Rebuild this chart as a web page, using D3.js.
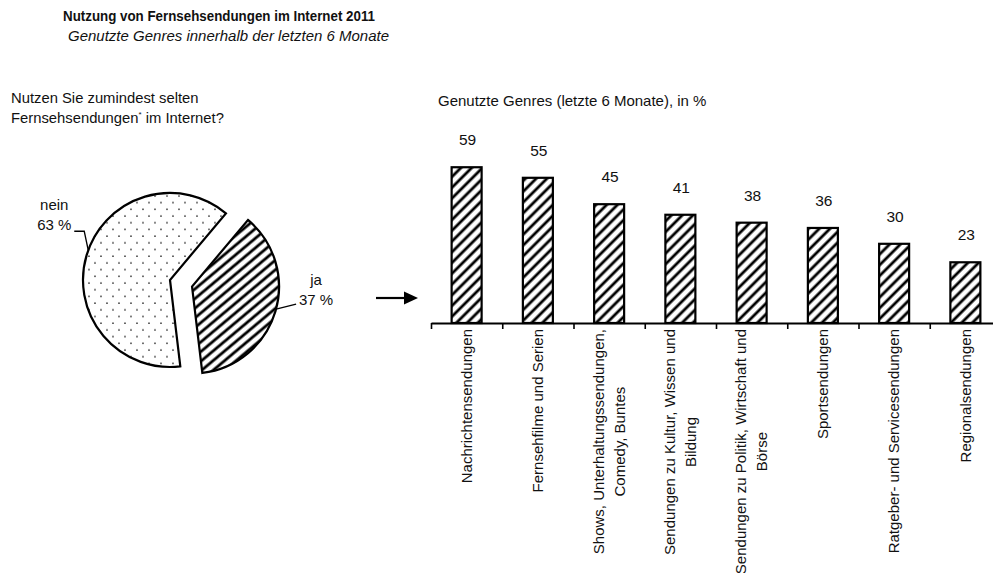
<!DOCTYPE html>
<html lang="de">
<head>
  <meta charset="UTF-8" />
  <title>Nutzung von Fernsehsendungen im Internet 2011</title>
  <script src="https://d3js.org/d3.v7.min.js"></script>
  <style>
    body { margin: 0; background: #fff; }
    svg { display: block; font-family: "Liberation Sans", Arial, sans-serif; }
    text { fill: #111; }
  </style>
</head>
<body>
  <svg id="chart" width="993" height="573"></svg>

  <script>
    // --- data ---
    const pieLabels = ["ja", "nein"];
    const pieValues = [37, 63];

    const categories = [
      "Nachrichtensendungen",
      "Fernsehfilme und Serien",
      "Shows, Unterhaltungssendungen,\nComedy, Buntes",
      "Sendungen zu Kultur,  Wissen und\nBildung",
      "Sendungen zu Politik, Wirtschaft und\nBörse",
      "Sportsendungen",
      "Ratgeber- und Servicesendungen",
      "Regionalsendungen"
    ];
    const genreValues = [59, 55, 45, 41, 38, 36, 30, 23];

    const svg = d3.select("#chart");
    const defs = svg.append("defs");

    // patterns
    const dots = defs.append("pattern")
      .attr("id", "dots").attr("patternUnits", "userSpaceOnUse")
      .attr("width", 12).attr("height", 13.4);
    dots.append("circle").attr("cx", 3).attr("cy", 3).attr("r", 0.85).attr("fill", "#333");
    dots.append("circle").attr("cx", 9).attr("cy", 9.7).attr("r", 0.85).attr("fill", "#333");

    function hatch(id, gap, sw, angle) {
      const p = defs.append("pattern")
        .attr("id", id).attr("patternUnits", "userSpaceOnUse")
        .attr("width", 10).attr("height", gap)
        .attr("patternTransform", `rotate(${angle})`);
      p.append("rect").attr("width", 10).attr("height", gap).attr("fill", "#fff");
      p.append("line").attr("x1", 0).attr("x2", 10)
        .attr("y1", gap / 2).attr("y2", gap / 2)
        .attr("stroke", "#000").attr("stroke-width", sw);
    }
    hatch("hatchPie", 7.4, 2.8, -40);
    hatch("hatchBar", 7.6, 2.8, -45);

    // --- titles ---
    svg.append("text").attr("x", 63).attr("y", 21)
      .attr("font-size", 15.5).attr("font-weight", "bold")
      .attr("textLength", 312).attr("lengthAdjust", "spacingAndGlyphs")
      .text("Nutzung von Fernsehsendungen im Internet 2011");
    svg.append("text").attr("x", 68).attr("y", 41)
      .attr("font-size", 15).attr("font-style", "italic")
      .text("Genutzte Genres innerhalb der letzten 6 Monate");

    svg.append("text").attr("x", 11).attr("y", 103).attr("font-size", 14.8)
      .text("Nutzen Sie zumindest selten");
    const q2 = svg.append("text").attr("x", 11).attr("y", 123).attr("font-size", 14.8);
    q2.append("tspan").text("Fernsehsendungen");
    q2.append("tspan").attr("font-size", 8).attr("dy", -6).text("*");
    q2.append("tspan").attr("dy", 6).text(" im Internet?");

    // --- pie ---
    const cx = 170, cy = 280, R = 87, explode = 23;
    const pie = d3.pie().sort(null).startAngle(40 * Math.PI / 180)
      .endAngle(400 * Math.PI / 180);
    const arcs = pie(pieValues);
    const arc = d3.arc().innerRadius(0).outerRadius(R);
    const fills = ["url(#hatchPie)", "url(#dots)"];

    const gPie = svg.append("g").attr("transform", `translate(${cx},${cy})`);
    arcs.forEach((a, i) => {
      const mid = (a.startAngle + a.endAngle) / 2;
      const off = i === 0 ? explode : 0;
      gPie.append("path")
        .attr("transform", `translate(${off * Math.sin(mid)},${-off * Math.cos(mid)})`)
        .attr("d", arc(a))
        .attr("fill", fills[i])
        .attr("stroke", "#000").attr("stroke-width", 2.2)
        .attr("stroke-linejoin", "miter");
    });

    // pie labels with leader lines
    const pt = (ang, r, ox, oy) => [ox + r * Math.sin(ang), oy - r * Math.cos(ang)];
    const jaMid = (arcs[0].startAngle + arcs[0].endAngle) / 2;
    const jx = cx + explode * Math.sin(jaMid), jy = cy - explode * Math.cos(jaMid);
    const jaEdge = pt(105 * Math.PI / 180, R, jx, jy);
    svg.append("path")
      .attr("d", d3.line()([jaEdge, [jaEdge[0] + 20, jaEdge[1] - 5]]))
      .attr("stroke", "#000").attr("stroke-width", 1.3).attr("fill", "none");
    const jaText = svg.append("text").attr("text-anchor", "middle").attr("font-size", 15);
    jaText.append("tspan").attr("x", jaEdge[0] + 40).attr("y", jaEdge[1] - 24).text(pieLabels[0]);
    jaText.append("tspan").attr("x", jaEdge[0] + 40).attr("y", jaEdge[1] - 4).text(`${pieValues[0]} %`);

    const neinEdge = pt(290 * Math.PI / 180, R, cx, cy);
    svg.append("path")
      .attr("d", d3.line()([neinEdge, [neinEdge[0] - 4, neinEdge[1] - 19], [neinEdge[0] - 14, neinEdge[1] - 19]]))
      .attr("stroke", "#000").attr("stroke-width", 1.3).attr("fill", "none");
    const neinText = svg.append("text").attr("text-anchor", "middle").attr("font-size", 15);
    neinText.append("tspan").attr("x", neinEdge[0] - 34).attr("y", neinEdge[1] - 40).text(pieLabels[1]);
    neinText.append("tspan").attr("x", neinEdge[0] - 34).attr("y", neinEdge[1] - 20).text(`${pieValues[1]} %`);

    // arrow
    svg.append("line").attr("x1", 376).attr("x2", 406).attr("y1", 298).attr("y2", 298)
      .attr("stroke", "#000").attr("stroke-width", 2.2);
    svg.append("path").attr("d", "M404,291.5L418,298L404,304.5Z").attr("fill", "#000");

    // --- bar chart ---
    svg.append("text").attr("x", 438).attr("y", 106).attr("font-size", 15)
      .text("Genutzte Genres (letzte 6 Monate), in %");

    const left = 431, right = 1001, base = 323;
    const x = d3.scaleBand().domain(categories).range([left, right]).padding(0);
    const y = d3.scaleLinear().domain([0, 100]).range([base, base - 264]);
    const barW = 30;

    const gBars = svg.append("g");
    gBars.selectAll("rect").data(genreValues).join("rect")
      .attr("x", (d, i) => x(categories[i]) + x.bandwidth() / 2 - barW / 2)
      .attr("y", d => y(d))
      .attr("width", barW)
      .attr("height", d => y(0) - y(d))
      .attr("fill", "url(#hatchBar)")
      .attr("stroke", "#000").attr("stroke-width", 2.2);

    gBars.selectAll("text").data(genreValues).join("text")
      .attr("x", (d, i) => x(categories[i]) + x.bandwidth() / 2 + 1)
      .attr("y", d => y(d) - 22)
      .attr("text-anchor", "middle").attr("font-size", 15.5)
      .text(d => d);

    // axis with ticks between categories
    const xEdge = d3.scaleLinear().domain([0, categories.length]).range([left, right]);
    const axisG = svg.append("g").attr("transform", `translate(0,${base})`)
      .call(d3.axisBottom(xEdge).ticks(categories.length).tickSize(6).tickSizeOuter(0).tickFormat(""));
    axisG.select(".domain").attr("stroke", "#000").attr("stroke-width", 2);
    axisG.selectAll(".tick line").attr("stroke", "#000").attr("stroke-width", 1.6);

    // rotated category labels
    const lineGap = 21, pad = 6;
    categories.forEach(c => {
      const lines = c.split("\n");
      const g = svg.append("g")
        .attr("transform", `translate(${x(c) + x.bandwidth() / 2},${base + pad}) rotate(-90)`);
      const texts = lines.map((ln, k) => g.append("text")
        .attr("font-size", 15)
        .attr("y", (k - (lines.length - 1) / 2) * lineGap)
        .attr("dy", "0.35em")
        .text(ln));
      const maxLen = d3.max(texts, t => t.node().getComputedTextLength());
      texts.forEach(t => t.attr("text-anchor", "middle").attr("x", -maxLen / 2));
    });
  </script>
</body>
</html>
